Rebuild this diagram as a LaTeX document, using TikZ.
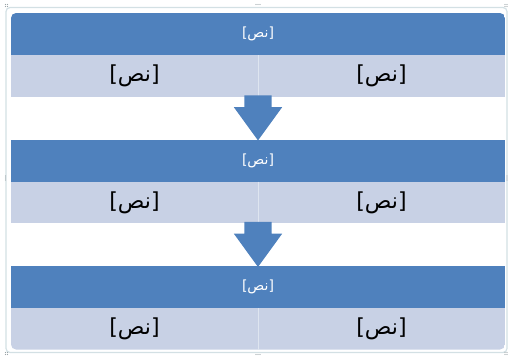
\documentclass[tikz,border=0pt]{standalone}
\usepackage{fontspec}
\usetikzlibrary{shapes.arrows}
\TeXXeTstate=1
\newfontfamily\arabicfont[Script=Arabic]{DejaVu Sans}
\newfontfamily\bracketfont{DejaVu Sans}

\definecolor{bandblue}{HTML}{4F81BD}
\definecolor{bandlight}{HTML}{C8D1E5}
\definecolor{splitline}{HTML}{DEE5F0}
\definecolor{framegray}{HTML}{D3E0E4}
\definecolor{handlegray}{HTML}{9AA4A8}

\newcommand{\nastext}{{\bracketfont[}{\arabicfont\beginR نص\endR}{\bracketfont]}}

\tikzset{
	headband/.style={fill=bandblue, text=white, minimum width=494pt, minimum height=42pt,
		inner sep=0pt, font=\fontsize{14}{16}\selectfont},
	itemband/.style={fill=bandlight, text=black, minimum width=247pt, minimum height=41.5pt,
		inner sep=0pt, font=\fontsize{22}{26}\selectfont},
	downarrow/.style={single arrow, fill=bandblue, rotate=-90,
		inner xsep=0pt, inner ysep=13.5pt, minimum height=45pt,
		single arrow head extend=10.5pt, single arrow tip angle=72},
	splitter/.style={splitline, line width=0.8pt}
}

\begin{document}
\begin{tikzpicture}[x=1pt, y=-1pt]
		\useasboundingbox (0, 0) rectangle (509, 356);
		
		% outer frame
		\draw[framegray, line width=1.2pt, rounded corners=4pt] (6, 7.5) rectangle (507, 352.5);
		
		% selection handles
		\foreach \hx/\hy in {256/4.5, 256/354.5}
			\foreach \k in {0, 2, 4}
				\fill[handlegray] (\hx + \k, \hy) circle [radius=0.6pt];
		\foreach \hx/\hy in {5.5/176, 507/176}
			\foreach \k in {0, 2, 4}
				\fill[handlegray] (\hx, \hy + \k) circle [radius=0.6pt];
		\foreach \hx/\hy in {5.5/4.5, 505/4.5, 5.5/352.5, 505/352.5}
			\foreach \k in {0, 2}
				\foreach \m in {0, 2}
					\fill[handlegray] (\hx + \k, \hy + \m) circle [radius=0.6pt];
		
		\begin{scope}
			\clip[rounded corners=5pt] (11, 13) rectangle (505, 349.5);
			
			% first row
			\node[headband] (headA) at (258, 34) {\nastext};
			\node[itemband, anchor=north west] (leftA) at (headA.south west) {\nastext};
			\node[itemband, anchor=north east] (rightA) at (headA.south east) {\nastext};
			
			% second row
			\node[headband] (headB) at (258, 160.5) {\nastext};
			\node[itemband, anchor=north west] (leftB) at (headB.south west) {\nastext};
			\node[itemband, anchor=north east] (rightB) at (headB.south east) {\nastext};
			
			% third row
			\node[headband] (headC) at (258, 287) {\nastext};
			\node[itemband, anchor=north west] (leftC) at (headC.south west) {\nastext};
			\node[itemband, anchor=north east] (rightC) at (headC.south east) {\nastext};
		\end{scope}
		
		% thin split between the two halves
		\draw[splitter] (leftA.north east) -- (leftA.south east);
		\draw[splitter] (leftB.north east) -- (leftB.south east);
		\draw[splitter] (leftC.north east) -- (leftC.south east);
		
		% block arrows
		\node[downarrow, anchor=tip] (arrowA) at ([yshift=-1.5pt]headB.north) {};
		\node[downarrow, anchor=tip] (arrowB) at ([yshift=-1.5pt]headC.north) {};
	\end{tikzpicture}
\end{document}
